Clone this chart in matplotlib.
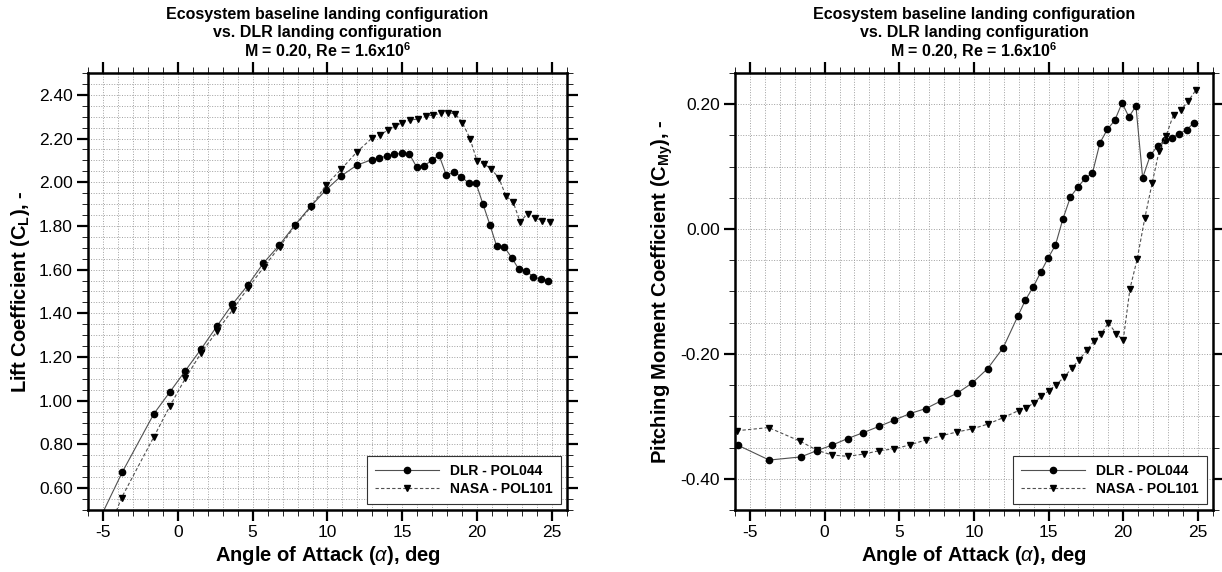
import matplotlib
matplotlib.use("Agg")
import matplotlib.pyplot as plt
from matplotlib.ticker import MultipleLocator, FormatStrFormatter

plt.rcParams["font.family"] = ["Liberation Sans", "DejaVu Sans"]
plt.rcParams["mathtext.fontset"] = "custom"
plt.rcParams["mathtext.rm"] = "Liberation Sans"
plt.rcParams["mathtext.it"] = "Liberation Sans:italic"
plt.rcParams["mathtext.bf"] = "Liberation Sans:bold"
plt.rcParams["axes.unicode_minus"] = False

# angle of attack, deg
alpha_dlr = [-5.83, -3.71, -1.60, -0.53, 0.51, 1.55, 2.60, 3.65, 4.68, 5.72,
             6.78, 7.82, 8.87, 9.90, 10.92, 11.96, 12.95, 13.45, 13.98, 14.47,
             14.97, 15.46, 15.95, 16.46, 16.97, 17.45, 17.94, 18.44, 18.93, 19.43,
             19.92, 20.38, 20.85, 21.30, 21.81, 22.30, 22.78, 23.25, 23.76, 24.25,
             24.72]
alpha_nasa = [-5.87, -3.75, -1.62, -0.54, 0.50, 1.55, 2.61, 3.66, 4.68, 5.73,
              6.80, 7.83, 8.87, 9.90, 10.92, 11.97, 12.99, 13.51, 14.01, 14.52,
              15.01, 15.52, 16.05, 16.55, 17.06, 17.57, 18.05, 18.54, 19.01, 19.52,
              20.00, 20.45, 20.93, 21.44, 21.93, 22.40, 22.86, 23.37, 23.86, 24.36,
              24.86]

cl_dlr = [0.372, 0.673, 0.940, 1.040, 1.138, 1.236, 1.340, 1.442, 1.529, 1.630,
          1.712, 1.804, 1.889, 1.965, 2.029, 2.078, 2.103, 2.110, 2.121, 2.127,
          2.133, 2.130, 2.070, 2.075, 2.101, 2.124, 2.032, 2.046, 2.026, 1.996,
          1.996, 1.901, 1.805, 1.708, 1.704, 1.655, 1.602, 1.596, 1.566, 1.557,
          1.550]
cl_nasa = [0.190, 0.557, 0.832, 0.974, 1.102, 1.218, 1.317, 1.416, 1.515, 1.610,
           1.705, 1.800, 1.885, 1.987, 2.060, 2.139, 2.203, 2.216, 2.238, 2.257,
           2.273, 2.284, 2.290, 2.301, 2.308, 2.315, 2.318, 2.313, 2.273, 2.200,
           2.095, 2.084, 2.061, 2.020, 1.936, 1.910, 1.820, 1.855, 1.838, 1.823,
           1.819]

cmy_dlr = [-0.346, -0.370, -0.365, -0.355, -0.346, -0.3355, -0.326, -0.316, -0.306, -0.2955,
           -0.2875, -0.275, -0.263, -0.2464, -0.2235, -0.190, -0.139, -0.1136, -0.0923, -0.0693,
           -0.0464, -0.0256, 0.0155, 0.0512, 0.0677, 0.081, 0.090, 0.138, 0.1595, 0.174,
           0.202, 0.1797, 0.197, 0.082, 0.118, 0.133, 0.142, 0.146, 0.153, 0.159,
           0.170]
cmy_nasa = [-0.323, -0.318, -0.340, -0.354, -0.362, -0.364, -0.3605, -0.355, -0.352, -0.3456,
            -0.3376, -0.331, -0.325, -0.320, -0.3125, -0.302, -0.2907, -0.287, -0.278, -0.268,
            -0.259, -0.249, -0.237, -0.223, -0.209, -0.194, -0.179, -0.1675, -0.150, -0.1675,
            -0.1776, -0.0955, -0.0485, 0.0171, 0.073, 0.1248, 0.1488, 0.1835, 0.190, 0.2053,
            0.2224]

labels = ["DLR - POL044", "NASA - POL101"]
title_lines = ["Ecosystem baseline landing configuration",
               "vs. DLR landing configuration",
               r"M = 0.20, Re = 1.6x10$^{\mathbf{6}}$"]


def style_axes(ax, ylim, ymajor):
    ax.set_xlim(-6, 26)
    ax.set_ylim(*ylim)
    ax.xaxis.set_major_locator(MultipleLocator(5))
    ax.xaxis.set_minor_locator(MultipleLocator(1))
    ax.yaxis.set_major_locator(MultipleLocator(ymajor))
    ax.yaxis.set_minor_locator(MultipleLocator(0.05))
    ax.yaxis.set_major_formatter(FormatStrFormatter("%.2f"))
    ax.tick_params(which="both", direction="out", top=True, right=True, labelsize=12.5)
    ax.tick_params(which="major", length=8, width=1.6, pad=3)
    ax.tick_params(which="minor", length=4.5, width=0.6)
    for sp in ax.spines.values():
        sp.set_linewidth(1.8)
    ax.grid(which="both", color="#a0a0a0", linestyle=":", linewidth=0.7)
    ax.set_axisbelow(True)
    ax.set_xlabel(r"Angle of Attack ($\alpha$), deg", fontsize=14.5, fontweight="bold", labelpad=3)
    # three title lines placed one by one so the pitch stays even
    for i, line in enumerate(reversed(title_lines)):
        ax.annotate(line, xy=(0.5, 1), xycoords="axes fraction",
                    xytext=(0, 12 + 13.6 * i), textcoords="offset points",
                    ha="center", va="baseline", fontsize=11.5, fontweight="bold")


def plot_pair(ax, y_dlr, y_nasa):
    ax.plot(alpha_dlr, y_dlr, color="#505050", lw=0.8, marker="o", ms=4.5,
            mfc="black", mec="black", label=labels[0])
    ax.plot(alpha_nasa, y_nasa, color="#505050", lw=0.8, ls=(0, (3, 2)), marker="v",
            ms=5, mfc="black", mec="black", label=labels[1])
    leg = ax.legend(loc="lower right", fancybox=False, framealpha=1, edgecolor="#333333",
                    prop={"weight": "bold", "size": 10}, handlelength=4.6,
                    borderaxespad=0.4, labelspacing=0.3, handletextpad=0.8,
                    borderpad=0.6)
    leg.get_frame().set_linewidth(0.8)


fig = plt.figure(figsize=(12.22, 5.72), dpi=100)
ax1 = fig.add_axes([0.072, 0.1084, 0.392, 0.764])
ax2 = fig.add_axes([0.6015, 0.1084, 0.391, 0.764])

plot_pair(ax1, cl_dlr, cl_nasa)
style_axes(ax1, (0.5, 2.5), 0.2)
ax1.set_ylabel(r"Lift Coefficient (C$_{\mathbf{L}}$), -", fontsize=14.5, fontweight="bold", labelpad=5)

plot_pair(ax2, cmy_dlr, cmy_nasa)
style_axes(ax2, (-0.45, 0.25), 0.2)
ax2.set_ylabel(r"Pitching Moment Coefficient (C$_{\mathbf{My}}$), -", fontsize=14.5,
               fontweight="bold", labelpad=4)

fig.savefig("out.png", dpi=100)
